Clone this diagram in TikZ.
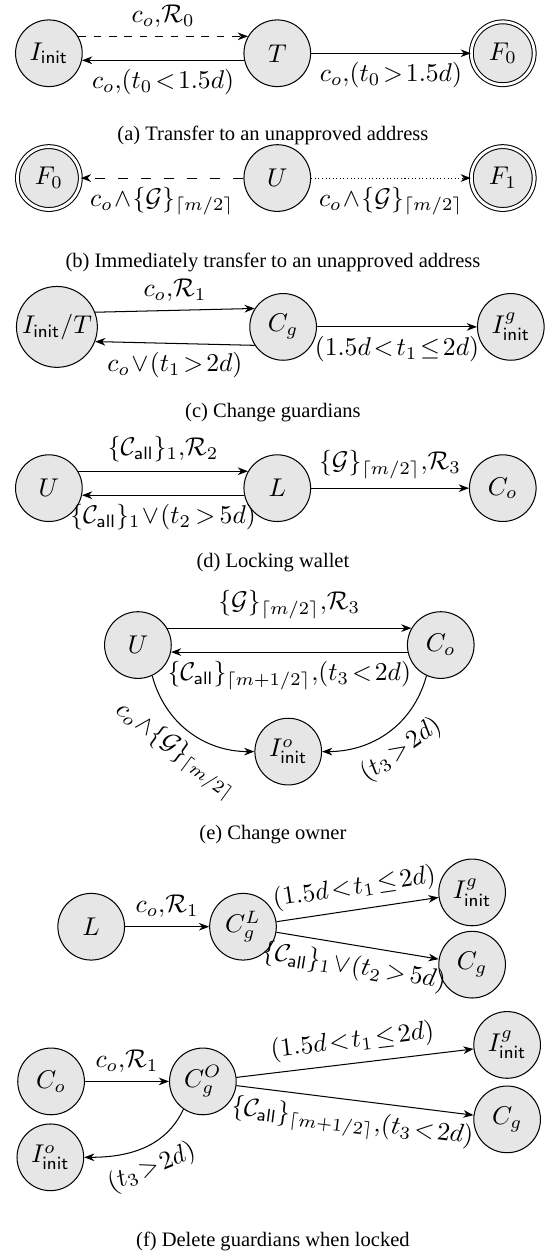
\documentclass[tikz,border=0pt]{standalone}
\usepackage[no-math]{fontspec}
\setmainfont{Liberation Serif}
\usetikzlibrary{arrows.meta}
\definecolor{stategray}{HTML}{E6E6E6}

\begin{document}
\begin{tikzpicture}[
  >={Stealth[length=4pt,width=3pt]},
  state/.style={circle, draw=black, line width=0.4pt, fill=stategray,
    minimum size=26pt, inner sep=1pt},
  final/.style={state, double, double distance=1.1pt, minimum size=24.5pt},
  trans/.style={->, line width=0.4pt},
  caption/.style={font=\fontsize{8}{9.6}\selectfont}
]
\useasboundingbox (0,0) rectangle (7.48,-17.24);

% (a) transfer to an unapproved address
\node[state] (ia) at (0.67,-0.73) {$I_{\mathsf{init}}$};
\node[state] (ta) at (3.80,-0.73) {$T$};
\node[final] (fa) at (6.89,-0.73) {$F_0$};
\draw[trans, dashed] (ia.30) -- node[above] {$c_o{,}\mathcal{R}_0$} (ta.150);
\draw[trans] (ta.192) -- node[below] {$c_o{,}(t_0\!<\!1.5d)$} (ia.-12);
\draw[trans] (ta) -- node[below] {$c_o{,}(t_0\!>\!1.5d)$} (fa);
\node[caption] (capa) at (3.74,-1.85) {(a) Transfer to an unapproved address};

% (b) immediate transfer
\node[final] (fb) at (0.67,-2.44) {$F_0$};
\node[state] (ub) at (3.80,-2.44) {$U$};
\node[final] (gb) at (6.89,-2.44) {$F_1$};
\draw[trans, dash pattern=on 4pt off 5pt] (ub) -- node[below] {$c_o\!\wedge\!\{\mathcal{G}\}_{\lceil m/2\rceil}$} (fb);
\draw[trans, densely dotted] (ub) -- node[below] {$c_o\!\wedge\!\{\mathcal{G}\}_{\lceil m/2\rceil}$} (gb);
\node[caption] (capb) at (3.74,-3.60) {(b) Immediately transfer to an unapproved address};

% (c) change guardians
\node[state] (itc) at (0.78,-4.48) {$I_{\mathsf{init}}/T$};
\node[state] (cgc) at (3.88,-4.48) {$C_g$};
\node[state] (igc) at (7.00,-4.48) {$I^g_{\mathsf{init}}$};
\draw[trans] (itc.21) -- node[above] {$c_o{,}\mathcal{R}_1$} (cgc.147);
\draw[trans] (cgc.213) -- node[below] {$c_o\!\vee\!(t_1\!>\!2d)$} (itc.-21);
\draw[trans] (cgc) -- node[below] {$(1.5d\!<\!t_1\!\leq\!2d)$} (igc);
\node[caption] (capc) at (3.74,-5.66) {(c) Change guardians};

% (d) locking wallet
\node[state] (ud) at (0.67,-6.69) {$U$};
\node[state] (ld) at (3.80,-6.69) {$L$};
\node[state] (cod) at (6.89,-6.69) {$C_o$};
\draw[trans] (ud.30) -- node[above] {$\{\mathcal{C}_{\mathsf{all}}\}_1{,}\mathcal{R}_2$} (ld.150);
\draw[trans] (ld.192) -- node[below] {$\{\mathcal{C}_{\mathsf{all}}\}_1\!\vee\!(t_2\,{>}\,5d)$} (ud.-12);
\draw[trans] (ld) -- node[above] {$\{\mathcal{G}\}_{\lceil m/2\rceil}{,}\mathcal{R}_3$} (cod);
\node[caption] (capd) at (3.74,-7.71) {(d) Locking wallet};

% (e) change owner
\node[state] (ue) at (1.89,-8.84) {$U$};
\node[state] (coe) at (6.04,-8.84) {$C_o$};
\node[state] (ioe) at (3.95,-10.30) {$I^o_{\mathsf{init}}$};
\draw[trans] (ue.30) -- node[above] {$\{\mathcal{G}\}_{\lceil m/2\rceil}{,}\mathcal{R}_3$} (coe.150);
\draw[trans] (coe.192) -- node[below] {$\{\mathcal{C}_{\mathsf{all}}\}_{\lceil m+1/2\rceil}{,}(t_3\!<\!2d)$} (ue.-12);
\draw[trans] (ue.-65) to[out=-75,in=180] node[midway,sloped,below] {$c_o\!\wedge\!\{\mathcal{G}\}_{\lceil m/2\rceil}$} (ioe.west);
\draw[trans] (coe.-115) to[out=-105,in=0] node[midway,sloped,below] {$(t_3\!>\!2d)$} (ioe.east);
\node[caption] (cape) at (3.74,-11.44) {(e) Change owner};

% (f) delete guardians when locked
\node[state] (lf) at (1.25,-12.70) {$L$};
\node[state] (clf) at (3.33,-12.70) {$C^L_g$};
\node[state] (igf) at (6.47,-12.23) {$I^g_{\mathsf{init}}$};
\node[state] (cgf) at (6.47,-13.22) {$C_g$};
\draw[trans] (lf) -- node[above] {$c_o{,}\mathcal{R}_1$} (clf);
\draw[trans] (clf) -- node[sloped,above] {$(1.5d\!<\!t_1\!\leq\!2d)$} (igf);
\draw[trans] (clf) -- node[sloped,below] {$\{\mathcal{C}_{\mathsf{all}}\}_1\!\vee\!(t_2\,{>}\,5d)$} (cgf);

\node[state] (cof) at (0.70,-14.82) {$C_o$};
\node[state] (cgo) at (2.78,-14.82) {$C^O_g$};
\node[state] (igo) at (6.95,-14.32) {$I^g_{\mathsf{init}}$};
\node[state] (cgg) at (6.95,-15.34) {$C_g$};
\node[state] (iof) at (0.69,-15.86) {$I^o_{\mathsf{init}}$};
\draw[trans] (cof) -- node[above] {$c_o{,}\mathcal{R}_1$} (cgo);
\draw[trans] (cgo) -- node[sloped,above] {$(1.5d\!<\!t_1\!\leq\!2d)$} (igo);
\draw[trans] (cgo) -- node[sloped,below] {$\{\mathcal{C}_{\mathsf{all}}\}_{\lceil m+1/2\rceil}{,}(t_3\!<\!2d)$} (cgg);
\draw[trans] (cgo.-125) to[out=-115,in=0] node[midway,sloped,below] {$(t_3\!>\!2d)$} (iof.east);
\node[caption] (capf) at (3.74,-17.02) {(f) Delete guardians when locked};
\end{tikzpicture}
\end{document}
